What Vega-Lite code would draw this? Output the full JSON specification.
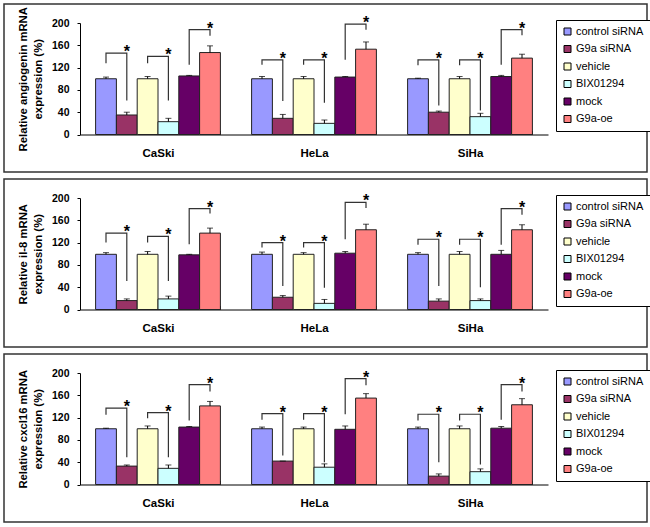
{
"$schema": "https://vega.github.io/schema/vega-lite/v6.json",
"padding": {"left": 3, "top": 3, "right": 0, "bottom": 0},
"spacing": 5,
"config": {
 "font": "Liberation Sans",
 "view": {"stroke": "#333", "strokeWidth": 1.5},
 "axis": {"grid": false, "domainColor": "#000", "tickColor": "#000", "labelColor": "#000", "titleColor": "#000", "labelFont": "Liberation Sans", "titleFont": "Liberation Sans"},
 "legend": {"labelFont": "Liberation Sans", "orient": "none", "legendX": 552, "legendY": 16, "strokeColor": "#000", "fillColor": "#fff", "padding": 6, "symbolType": "square", "symbolSize": 49, "symbolStrokeColor": "#000", "symbolStrokeWidth": 1, "symbolOpacity": 1, "labelFontSize": 11, "labelOffset": 3, "rowPadding": 5.5, "labelColor": "#000"}
},
"resolve": {"legend": {"color": "independent"}},
"datasets": {
 "bars": [
  {"p":"a","g":"CaSki","s":"control siRNA","v":100,"hi":103},
  {"p":"a","g":"CaSki","s":"G9a siRNA","v":35,"hi":40},
  {"p":"a","g":"CaSki","s":"vehicle","v":100,"hi":104},
  {"p":"a","g":"CaSki","s":"BIX01294","v":23,"hi":29},
  {"p":"a","g":"CaSki","s":"mock","v":105,"hi":106},
  {"p":"a","g":"CaSki","s":"G9a-oe","v":147,"hi":159},
  {"p":"a","g":"HeLa","s":"control siRNA","v":100,"hi":104},
  {"p":"a","g":"HeLa","s":"G9a siRNA","v":29,"hi":36},
  {"p":"a","g":"HeLa","s":"vehicle","v":100,"hi":104},
  {"p":"a","g":"HeLa","s":"BIX01294","v":20,"hi":26},
  {"p":"a","g":"HeLa","s":"mock","v":103,"hi":104},
  {"p":"a","g":"HeLa","s":"G9a-oe","v":153,"hi":166},
  {"p":"a","g":"SiHa","s":"control siRNA","v":100,"hi":101},
  {"p":"a","g":"SiHa","s":"G9a siRNA","v":40,"hi":42},
  {"p":"a","g":"SiHa","s":"vehicle","v":100,"hi":104},
  {"p":"a","g":"SiHa","s":"BIX01294","v":32,"hi":38},
  {"p":"a","g":"SiHa","s":"mock","v":104,"hi":106},
  {"p":"a","g":"SiHa","s":"G9a-oe","v":137,"hi":144},
  {"p":"i","g":"CaSki","s":"control siRNA","v":99,"hi":102},
  {"p":"i","g":"CaSki","s":"G9a siRNA","v":16,"hi":19},
  {"p":"i","g":"CaSki","s":"vehicle","v":99,"hi":104},
  {"p":"i","g":"CaSki","s":"BIX01294","v":19,"hi":24},
  {"p":"i","g":"CaSki","s":"mock","v":98,"hi":99},
  {"p":"i","g":"CaSki","s":"G9a-oe","v":137,"hi":146},
  {"p":"i","g":"HeLa","s":"control siRNA","v":99,"hi":103},
  {"p":"i","g":"HeLa","s":"G9a siRNA","v":22,"hi":25},
  {"p":"i","g":"HeLa","s":"vehicle","v":99,"hi":102},
  {"p":"i","g":"HeLa","s":"BIX01294","v":11,"hi":18},
  {"p":"i","g":"HeLa","s":"mock","v":101,"hi":104},
  {"p":"i","g":"HeLa","s":"G9a-oe","v":143,"hi":153},
  {"p":"i","g":"SiHa","s":"control siRNA","v":99,"hi":102},
  {"p":"i","g":"SiHa","s":"G9a siRNA","v":15,"hi":19},
  {"p":"i","g":"SiHa","s":"vehicle","v":99,"hi":104},
  {"p":"i","g":"SiHa","s":"BIX01294","v":16,"hi":19},
  {"p":"i","g":"SiHa","s":"mock","v":99,"hi":106},
  {"p":"i","g":"SiHa","s":"G9a-oe","v":143,"hi":152},
  {"p":"c","g":"CaSki","s":"control siRNA","v":100,"hi":101},
  {"p":"c","g":"CaSki","s":"G9a siRNA","v":33,"hi":35},
  {"p":"c","g":"CaSki","s":"vehicle","v":100,"hi":105},
  {"p":"c","g":"CaSki","s":"BIX01294","v":29,"hi":35},
  {"p":"c","g":"CaSki","s":"mock","v":103,"hi":104},
  {"p":"c","g":"CaSki","s":"G9a-oe","v":141,"hi":149},
  {"p":"c","g":"HeLa","s":"control siRNA","v":100,"hi":103},
  {"p":"c","g":"HeLa","s":"G9a siRNA","v":42,"hi":42},
  {"p":"c","g":"HeLa","s":"vehicle","v":100,"hi":103},
  {"p":"c","g":"HeLa","s":"BIX01294","v":31,"hi":37},
  {"p":"c","g":"HeLa","s":"mock","v":99,"hi":105},
  {"p":"c","g":"HeLa","s":"G9a-oe","v":155,"hi":163},
  {"p":"c","g":"SiHa","s":"control siRNA","v":100,"hi":103},
  {"p":"c","g":"SiHa","s":"G9a siRNA","v":15,"hi":19},
  {"p":"c","g":"SiHa","s":"vehicle","v":100,"hi":105},
  {"p":"c","g":"SiHa","s":"BIX01294","v":23,"hi":28},
  {"p":"c","g":"SiHa","s":"mock","v":101,"hi":104},
  {"p":"c","g":"SiHa","s":"G9a-oe","v":143,"hi":154}
 ],
 "br": [
  {"p":"a","g":"CaSki","b":"a1","s":"control siRNA","y":128,"o":1},{"p":"a","g":"CaSki","b":"a1","s":"control siRNA","y":146,"o":2},{"p":"a","g":"CaSki","b":"a1","s":"G9a siRNA","y":146,"o":3},{"p":"a","g":"CaSki","b":"a1","s":"G9a siRNA","y":61,"o":4},
  {"p":"a","g":"CaSki","b":"a2","s":"vehicle","y":128,"o":1},{"p":"a","g":"CaSki","b":"a2","s":"vehicle","y":140,"o":2},{"p":"a","g":"CaSki","b":"a2","s":"BIX01294","y":140,"o":3},{"p":"a","g":"CaSki","b":"a2","s":"BIX01294","y":61,"o":4},
  {"p":"a","g":"CaSki","b":"a3","s":"mock","y":125,"o":1},{"p":"a","g":"CaSki","b":"a3","s":"mock","y":188,"o":2},{"p":"a","g":"CaSki","b":"a3","s":"G9a-oe","y":188,"o":3},{"p":"a","g":"CaSki","b":"a3","s":"G9a-oe","y":177,"o":4},
  {"p":"a","g":"HeLa","b":"a4","s":"control siRNA","y":125,"o":1},{"p":"a","g":"HeLa","b":"a4","s":"control siRNA","y":134,"o":2},{"p":"a","g":"HeLa","b":"a4","s":"G9a siRNA","y":134,"o":3},{"p":"a","g":"HeLa","b":"a4","s":"G9a siRNA","y":60,"o":4},
  {"p":"a","g":"HeLa","b":"a5","s":"vehicle","y":125,"o":1},{"p":"a","g":"HeLa","b":"a5","s":"vehicle","y":134,"o":2},{"p":"a","g":"HeLa","b":"a5","s":"BIX01294","y":134,"o":3},{"p":"a","g":"HeLa","b":"a5","s":"BIX01294","y":57,"o":4},
  {"p":"a","g":"HeLa","b":"a6","s":"mock","y":134,"o":1},{"p":"a","g":"HeLa","b":"a6","s":"mock","y":198,"o":2},{"p":"a","g":"HeLa","b":"a6","s":"G9a-oe","y":198,"o":3},{"p":"a","g":"HeLa","b":"a6","s":"G9a-oe","y":188,"o":4},
  {"p":"a","g":"SiHa","b":"a7","s":"control siRNA","y":124,"o":1},{"p":"a","g":"SiHa","b":"a7","s":"control siRNA","y":134,"o":2},{"p":"a","g":"SiHa","b":"a7","s":"G9a siRNA","y":134,"o":3},{"p":"a","g":"SiHa","b":"a7","s":"G9a siRNA","y":52,"o":4},
  {"p":"a","g":"SiHa","b":"a8","s":"vehicle","y":124,"o":1},{"p":"a","g":"SiHa","b":"a8","s":"vehicle","y":134,"o":2},{"p":"a","g":"SiHa","b":"a8","s":"BIX01294","y":134,"o":3},{"p":"a","g":"SiHa","b":"a8","s":"BIX01294","y":43,"o":4},
  {"p":"a","g":"SiHa","b":"a9","s":"mock","y":125,"o":1},{"p":"a","g":"SiHa","b":"a9","s":"mock","y":188,"o":2},{"p":"a","g":"SiHa","b":"a9","s":"G9a-oe","y":188,"o":3},{"p":"a","g":"SiHa","b":"a9","s":"G9a-oe","y":178,"o":4},
  {"p":"i","g":"CaSki","b":"i1","s":"control siRNA","y":120,"o":1},{"p":"i","g":"CaSki","b":"i1","s":"control siRNA","y":137,"o":2},{"p":"i","g":"CaSki","b":"i1","s":"G9a siRNA","y":137,"o":3},{"p":"i","g":"CaSki","b":"i1","s":"G9a siRNA","y":51,"o":4},
  {"p":"i","g":"CaSki","b":"i2","s":"vehicle","y":120,"o":1},{"p":"i","g":"CaSki","b":"i2","s":"vehicle","y":131,"o":2},{"p":"i","g":"CaSki","b":"i2","s":"BIX01294","y":131,"o":3},{"p":"i","g":"CaSki","b":"i2","s":"BIX01294","y":51,"o":4},
  {"p":"i","g":"CaSki","b":"i3","s":"mock","y":117,"o":1},{"p":"i","g":"CaSki","b":"i3","s":"mock","y":181,"o":2},{"p":"i","g":"CaSki","b":"i3","s":"G9a-oe","y":181,"o":3},{"p":"i","g":"CaSki","b":"i3","s":"G9a-oe","y":172,"o":4},
  {"p":"i","g":"HeLa","b":"i4","s":"control siRNA","y":111,"o":1},{"p":"i","g":"HeLa","b":"i4","s":"control siRNA","y":120,"o":2},{"p":"i","g":"HeLa","b":"i4","s":"G9a siRNA","y":120,"o":3},{"p":"i","g":"HeLa","b":"i4","s":"G9a siRNA","y":42,"o":4},
  {"p":"i","g":"HeLa","b":"i5","s":"vehicle","y":111,"o":1},{"p":"i","g":"HeLa","b":"i5","s":"vehicle","y":120,"o":2},{"p":"i","g":"HeLa","b":"i5","s":"BIX01294","y":120,"o":3},{"p":"i","g":"HeLa","b":"i5","s":"BIX01294","y":39,"o":4},
  {"p":"i","g":"HeLa","b":"i6","s":"mock","y":126,"o":1},{"p":"i","g":"HeLa","b":"i6","s":"mock","y":192,"o":2},{"p":"i","g":"HeLa","b":"i6","s":"G9a-oe","y":192,"o":3},{"p":"i","g":"HeLa","b":"i6","s":"G9a-oe","y":182,"o":4},
  {"p":"i","g":"SiHa","b":"i7","s":"control siRNA","y":116,"o":1},{"p":"i","g":"SiHa","b":"i7","s":"control siRNA","y":126,"o":2},{"p":"i","g":"SiHa","b":"i7","s":"G9a siRNA","y":126,"o":3},{"p":"i","g":"SiHa","b":"i7","s":"G9a siRNA","y":42,"o":4},
  {"p":"i","g":"SiHa","b":"i8","s":"vehicle","y":116,"o":1},{"p":"i","g":"SiHa","b":"i8","s":"vehicle","y":126,"o":2},{"p":"i","g":"SiHa","b":"i8","s":"BIX01294","y":126,"o":3},{"p":"i","g":"SiHa","b":"i8","s":"BIX01294","y":40,"o":4},
  {"p":"i","g":"SiHa","b":"i9","s":"mock","y":116,"o":1},{"p":"i","g":"SiHa","b":"i9","s":"mock","y":181,"o":2},{"p":"i","g":"SiHa","b":"i9","s":"G9a-oe","y":181,"o":3},{"p":"i","g":"SiHa","b":"i9","s":"G9a-oe","y":170,"o":4},
  {"p":"c","g":"CaSki","b":"c1","s":"control siRNA","y":125,"o":1},{"p":"c","g":"CaSki","b":"c1","s":"control siRNA","y":137,"o":2},{"p":"c","g":"CaSki","b":"c1","s":"G9a siRNA","y":137,"o":3},{"p":"c","g":"CaSki","b":"c1","s":"G9a siRNA","y":49,"o":4},
  {"p":"c","g":"CaSki","b":"c2","s":"vehicle","y":119,"o":1},{"p":"c","g":"CaSki","b":"c2","s":"vehicle","y":129,"o":2},{"p":"c","g":"CaSki","b":"c2","s":"BIX01294","y":129,"o":3},{"p":"c","g":"CaSki","b":"c2","s":"BIX01294","y":49,"o":4},
  {"p":"c","g":"CaSki","b":"c3","s":"mock","y":115,"o":1},{"p":"c","g":"CaSki","b":"c3","s":"mock","y":179,"o":2},{"p":"c","g":"CaSki","b":"c3","s":"G9a-oe","y":179,"o":3},{"p":"c","g":"CaSki","b":"c3","s":"G9a-oe","y":167,"o":4},
  {"p":"c","g":"HeLa","b":"c4","s":"control siRNA","y":116,"o":1},{"p":"c","g":"HeLa","b":"c4","s":"control siRNA","y":127,"o":2},{"p":"c","g":"HeLa","b":"c4","s":"G9a siRNA","y":127,"o":3},{"p":"c","g":"HeLa","b":"c4","s":"G9a siRNA","y":52,"o":4},
  {"p":"c","g":"HeLa","b":"c5","s":"vehicle","y":116,"o":1},{"p":"c","g":"HeLa","b":"c5","s":"vehicle","y":127,"o":2},{"p":"c","g":"HeLa","b":"c5","s":"BIX01294","y":127,"o":3},{"p":"c","g":"HeLa","b":"c5","s":"BIX01294","y":40,"o":4},
  {"p":"c","g":"HeLa","b":"c6","s":"mock","y":126,"o":1},{"p":"c","g":"HeLa","b":"c6","s":"mock","y":190,"o":2},{"p":"c","g":"HeLa","b":"c6","s":"G9a-oe","y":190,"o":3},{"p":"c","g":"HeLa","b":"c6","s":"G9a-oe","y":178,"o":4},
  {"p":"c","g":"SiHa","b":"c7","s":"control siRNA","y":115,"o":1},{"p":"c","g":"SiHa","b":"c7","s":"control siRNA","y":126,"o":2},{"p":"c","g":"SiHa","b":"c7","s":"G9a siRNA","y":126,"o":3},{"p":"c","g":"SiHa","b":"c7","s":"G9a siRNA","y":40,"o":4},
  {"p":"c","g":"SiHa","b":"c8","s":"vehicle","y":115,"o":1},{"p":"c","g":"SiHa","b":"c8","s":"vehicle","y":126,"o":2},{"p":"c","g":"SiHa","b":"c8","s":"BIX01294","y":126,"o":3},{"p":"c","g":"SiHa","b":"c8","s":"BIX01294","y":36,"o":4},
  {"p":"c","g":"SiHa","b":"c9","s":"mock","y":116,"o":1},{"p":"c","g":"SiHa","b":"c9","s":"mock","y":179,"o":2},{"p":"c","g":"SiHa","b":"c9","s":"G9a-oe","y":179,"o":3},{"p":"c","g":"SiHa","b":"c9","s":"G9a-oe","y":167,"o":4}
 ]
},
"vconcat": [
 {
  "width": 643, "height": 168,
  "resolve": {"axis": {"x": "independent", "y": "independent"}},
  "layer": [
   {"data": {"name": "bars"}, "transform": [{"filter": "datum.p == 'a'"}],
    "mark": {"type": "bar", "stroke": "#222", "strokeWidth": 1},
    "encoding": {
     "x": {"field": "g", "type": "nominal", "sort": ["CaSki","HeLa","SiHa"], "scale": {"range": [76, 544], "paddingInner": 0.2, "paddingOuter": 0.1},
       "axis": {"title": null, "offset": -37.5, "tickBand": "extent", "tickSize": -4, "labelAngle": 0, "labelFontWeight": "bold", "labelFontSize": 11.5, "labelPadding": 17}},
     "xOffset": {"field": "s", "type": "nominal", "scale": {"domain": ["control siRNA","G9a siRNA","vehicle","BIX01294","mock","G9a-oe"], "paddingInner": 0, "paddingOuter": 0}},
     "y": {"field": "v", "type": "quantitative", "scale": {"domain": [0, 200], "range": [130.5, 19], "nice": false, "zero": false},
       "axis": {"title": ["Relative angiogenin mRNA", "expression (%)"], "values": [0,40,80,120,160,200], "labelOverlap": false, "labelSeparation": 0, "labelBound": false, "offset": -76, "tickSize": 3, "labelPadding": 8, "labelFontWeight": "bold", "labelFontSize": 10.5, "titleFontSize": 11.3, "titleFontWeight": "bold", "titleX": -52, "titleLineHeight": 15}},
     "color": {"field": "s", "type": "nominal", "scale": {"domain": ["control siRNA","G9a siRNA","vehicle","BIX01294","mock","G9a-oe"], "range": ["#9999FF","#993366","#FFFFCC","#CCFFFF","#660066","#FF8080"]}, "legend": {"title": null}}
    }},
   {"data": {"name": "bars"}, "transform": [{"filter": "datum.p == 'a'"}],
    "mark": {"type": "rule", "color": "#000", "strokeWidth": 1},
    "encoding": {"x": {"field": "g", "type": "nominal", "sort": ["CaSki","HeLa","SiHa"], "axis": null}, "xOffset": {"field": "s", "type": "nominal"}, "y": {"field": "v", "type": "quantitative", "axis": null}, "y2": {"field": "hi"}}},
   {"data": {"name": "bars"}, "transform": [{"filter": "datum.p == 'a'"}],
    "mark": {"type": "tick", "color": "#000", "size": 6, "thickness": 1},
    "encoding": {"x": {"field": "g", "type": "nominal", "sort": ["CaSki","HeLa","SiHa"], "axis": null}, "xOffset": {"field": "s", "type": "nominal"}, "y": {"field": "hi", "type": "quantitative", "axis": null}}},
   {"data": {"name": "br"}, "transform": [{"filter": "datum.p == 'a'"}],
    "mark": {"type": "line", "color": "#333", "strokeWidth": 1.2},
    "encoding": {"x": {"field": "g", "type": "nominal", "sort": ["CaSki","HeLa","SiHa"], "axis": null}, "xOffset": {"field": "s", "type": "nominal"}, "y": {"field": "y", "type": "quantitative", "axis": null}, "detail": {"field": "b"}, "order": {"field": "o", "type": "quantitative"}}},
   {"data": {"name": "br"}, "transform": [{"filter": "datum.p == 'a' && datum.o == 3"}],
    "mark": {"type": "text", "text": "*", "fontSize": 16, "fontWeight": "bold", "baseline": "alphabetic", "dy": 4, "color": "#000"},
    "encoding": {"x": {"field": "g", "type": "nominal", "sort": ["CaSki","HeLa","SiHa"], "axis": null}, "xOffset": {"field": "s", "type": "nominal"}, "y": {"field": "y", "type": "quantitative", "axis": null}}}
  ]
 },
 {
  "width": 643, "height": 168,
  "resolve": {"axis": {"x": "independent", "y": "independent"}},
  "layer": [
   {"data": {"name": "bars"}, "transform": [{"filter": "datum.p == 'i'"}],
    "mark": {"type": "bar", "stroke": "#222", "strokeWidth": 1},
    "encoding": {
     "x": {"field": "g", "type": "nominal", "sort": ["CaSki","HeLa","SiHa"], "scale": {"range": [76, 544], "paddingInner": 0.2, "paddingOuter": 0.1},
       "axis": {"title": null, "offset": -37.5, "tickBand": "extent", "tickSize": -4, "labelAngle": 0, "labelFontWeight": "bold", "labelFontSize": 11.5, "labelPadding": 17}},
     "xOffset": {"field": "s", "type": "nominal", "scale": {"domain": ["control siRNA","G9a siRNA","vehicle","BIX01294","mock","G9a-oe"], "paddingInner": 0, "paddingOuter": 0}},
     "y": {"field": "v", "type": "quantitative", "scale": {"domain": [0, 200], "range": [130.5, 19], "nice": false, "zero": false},
       "axis": {"title": ["Relative il-8 mRNA", "expression (%)"], "values": [0,40,80,120,160,200], "labelOverlap": false, "labelSeparation": 0, "labelBound": false, "offset": -76, "tickSize": 3, "labelPadding": 8, "labelFontWeight": "bold", "labelFontSize": 10.5, "titleFontSize": 11.3, "titleFontWeight": "bold", "titleX": -52, "titleLineHeight": 15}},
     "color": {"field": "s", "type": "nominal", "scale": {"domain": ["control siRNA","G9a siRNA","vehicle","BIX01294","mock","G9a-oe"], "range": ["#9999FF","#993366","#FFFFCC","#CCFFFF","#660066","#FF8080"]}, "legend": {"title": null}}
    }},
   {"data": {"name": "bars"}, "transform": [{"filter": "datum.p == 'i'"}],
    "mark": {"type": "rule", "color": "#000", "strokeWidth": 1},
    "encoding": {"x": {"field": "g", "type": "nominal", "sort": ["CaSki","HeLa","SiHa"], "axis": null}, "xOffset": {"field": "s", "type": "nominal"}, "y": {"field": "v", "type": "quantitative", "axis": null}, "y2": {"field": "hi"}}},
   {"data": {"name": "bars"}, "transform": [{"filter": "datum.p == 'i'"}],
    "mark": {"type": "tick", "color": "#000", "size": 6, "thickness": 1},
    "encoding": {"x": {"field": "g", "type": "nominal", "sort": ["CaSki","HeLa","SiHa"], "axis": null}, "xOffset": {"field": "s", "type": "nominal"}, "y": {"field": "hi", "type": "quantitative", "axis": null}}},
   {"data": {"name": "br"}, "transform": [{"filter": "datum.p == 'i'"}],
    "mark": {"type": "line", "color": "#333", "strokeWidth": 1.2},
    "encoding": {"x": {"field": "g", "type": "nominal", "sort": ["CaSki","HeLa","SiHa"], "axis": null}, "xOffset": {"field": "s", "type": "nominal"}, "y": {"field": "y", "type": "quantitative", "axis": null}, "detail": {"field": "b"}, "order": {"field": "o", "type": "quantitative"}}},
   {"data": {"name": "br"}, "transform": [{"filter": "datum.p == 'i' && datum.o == 3"}],
    "mark": {"type": "text", "text": "*", "fontSize": 16, "fontWeight": "bold", "baseline": "alphabetic", "dy": 4, "color": "#000"},
    "encoding": {"x": {"field": "g", "type": "nominal", "sort": ["CaSki","HeLa","SiHa"], "axis": null}, "xOffset": {"field": "s", "type": "nominal"}, "y": {"field": "y", "type": "quantitative", "axis": null}}}
  ]
 },
 {
  "width": 643, "height": 168,
  "resolve": {"axis": {"x": "independent", "y": "independent"}},
  "layer": [
   {"data": {"name": "bars"}, "transform": [{"filter": "datum.p == 'c'"}],
    "mark": {"type": "bar", "stroke": "#222", "strokeWidth": 1},
    "encoding": {
     "x": {"field": "g", "type": "nominal", "sort": ["CaSki","HeLa","SiHa"], "scale": {"range": [76, 544], "paddingInner": 0.2, "paddingOuter": 0.1},
       "axis": {"title": null, "offset": -37.5, "tickBand": "extent", "tickSize": -4, "labelAngle": 0, "labelFontWeight": "bold", "labelFontSize": 11.5, "labelPadding": 17}},
     "xOffset": {"field": "s", "type": "nominal", "scale": {"domain": ["control siRNA","G9a siRNA","vehicle","BIX01294","mock","G9a-oe"], "paddingInner": 0, "paddingOuter": 0}},
     "y": {"field": "v", "type": "quantitative", "scale": {"domain": [0, 200], "range": [130.5, 19], "nice": false, "zero": false},
       "axis": {"title": ["Relative cxcl16 mRNA", "expression (%)"], "values": [0,40,80,120,160,200], "labelOverlap": false, "labelSeparation": 0, "labelBound": false, "offset": -76, "tickSize": 3, "labelPadding": 8, "labelFontWeight": "bold", "labelFontSize": 10.5, "titleFontSize": 11.3, "titleFontWeight": "bold", "titleX": -52, "titleLineHeight": 15}},
     "color": {"field": "s", "type": "nominal", "scale": {"domain": ["control siRNA","G9a siRNA","vehicle","BIX01294","mock","G9a-oe"], "range": ["#9999FF","#993366","#FFFFCC","#CCFFFF","#660066","#FF8080"]}, "legend": {"title": null}}
    }},
   {"data": {"name": "bars"}, "transform": [{"filter": "datum.p == 'c'"}],
    "mark": {"type": "rule", "color": "#000", "strokeWidth": 1},
    "encoding": {"x": {"field": "g", "type": "nominal", "sort": ["CaSki","HeLa","SiHa"], "axis": null}, "xOffset": {"field": "s", "type": "nominal"}, "y": {"field": "v", "type": "quantitative", "axis": null}, "y2": {"field": "hi"}}},
   {"data": {"name": "bars"}, "transform": [{"filter": "datum.p == 'c'"}],
    "mark": {"type": "tick", "color": "#000", "size": 6, "thickness": 1},
    "encoding": {"x": {"field": "g", "type": "nominal", "sort": ["CaSki","HeLa","SiHa"], "axis": null}, "xOffset": {"field": "s", "type": "nominal"}, "y": {"field": "hi", "type": "quantitative", "axis": null}}},
   {"data": {"name": "br"}, "transform": [{"filter": "datum.p == 'c'"}],
    "mark": {"type": "line", "color": "#333", "strokeWidth": 1.2},
    "encoding": {"x": {"field": "g", "type": "nominal", "sort": ["CaSki","HeLa","SiHa"], "axis": null}, "xOffset": {"field": "s", "type": "nominal"}, "y": {"field": "y", "type": "quantitative", "axis": null}, "detail": {"field": "b"}, "order": {"field": "o", "type": "quantitative"}}},
   {"data": {"name": "br"}, "transform": [{"filter": "datum.p == 'c' && datum.o == 3"}],
    "mark": {"type": "text", "text": "*", "fontSize": 16, "fontWeight": "bold", "baseline": "alphabetic", "dy": 4, "color": "#000"},
    "encoding": {"x": {"field": "g", "type": "nominal", "sort": ["CaSki","HeLa","SiHa"], "axis": null}, "xOffset": {"field": "s", "type": "nominal"}, "y": {"field": "y", "type": "quantitative", "axis": null}}}
  ]
 }
]
}
